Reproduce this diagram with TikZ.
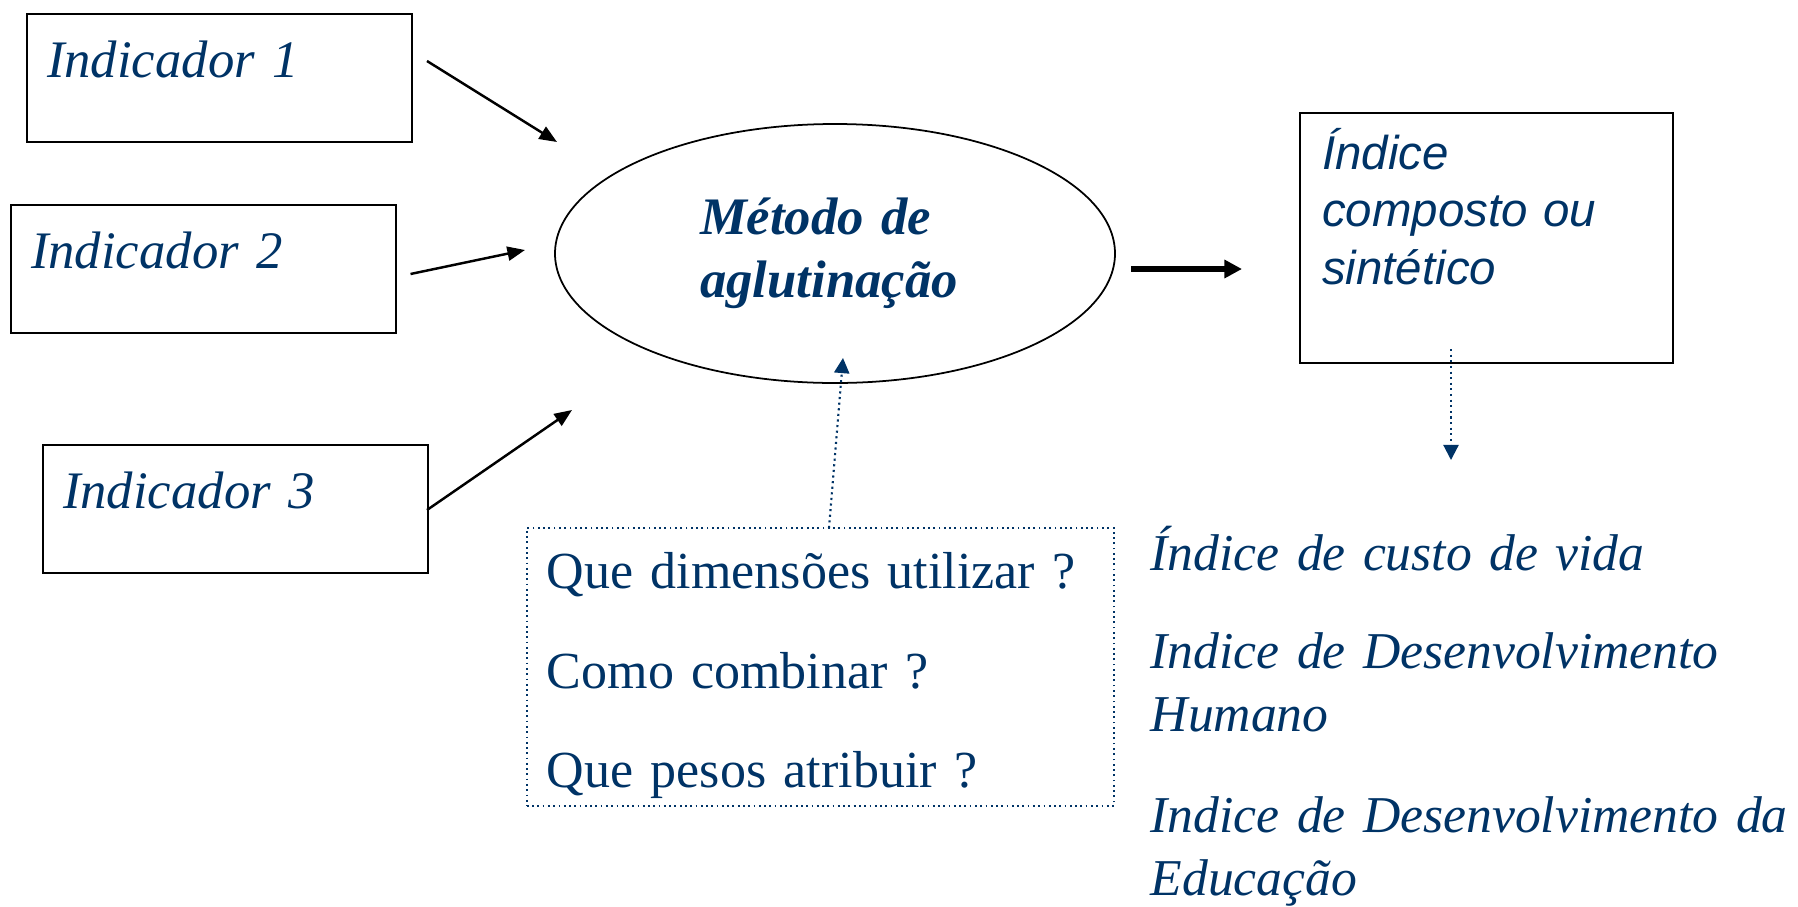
\documentclass[tikz,border=0pt]{standalone}
\usepackage{fontspec}
\setmainfont{Liberation Serif}
\setsansfont{Liberation Sans}
\usepackage{xcolor}
\usepackage{tikz}
\usetikzlibrary{arrows.meta,shapes.geometric}
\definecolor{inkblue}{HTML}{003366}
\tikzset{
  fig/.style={every node/.style={text=inkblue, align=left, inner ysep=0pt}},
  indbox/.style={draw=black, line width=0.6pt, anchor=north west, text width=3.45cm, inner xsep=0.2cm,
                 text height=0.63cm, text depth=0.65cm, font=\fontsize{15}{18}\selectfont\itshape},
  metodo/.style={draw=black, ellipse, line width=0.5pt, minimum width=5.6cm, minimum height=2.59cm, inner sep=0pt,
                 text width=2.7cm, text height=0.3cm, text depth=0.69cm, font=\fontsize{15}{18.2}\selectfont\bfseries\itshape},
  result/.style={draw=black, line width=0.6pt, anchor=north west, text width=3.29cm, inner xsep=0.22cm,
                 text height=0.56cm, text depth=1.94cm, font=\fontsize{13.5}{16.4}\selectfont\sffamily\itshape},
  quest/.style={draw=inkblue, densely dotted, line width=0.5pt, anchor=north west, text width=5.47cm, inner xsep=0.2cm,
                text height=0.61cm, text depth=2.17cm, font=\fontsize{14.8}{28.2}\selectfont},
  example/.style={anchor=base west, text width=6.8cm, inner xsep=0pt, font=\fontsize{14.7}{18.2}\selectfont\itshape},
  feed/.style={-{Triangle[length=5pt,width=4pt]}, line width=0.7pt},
  output/.style={-{Triangle[length=5pt,width=5pt]}, line width=1.7pt},
  hint/.style={-{Triangle[length=4.3pt,width=4.3pt]}, densely dotted, line width=0.6pt, inkblue}
}

\begin{document}
\begin{tikzpicture}[fig]
\useasboundingbox (0,0) rectangle (17.98,-9.06);
\node[indbox] (ind1) at (0.26,-0.13) {Indicador 1};
\node[indbox] (ind2) at (0.10,-2.04) {Indicador 2};
\node[indbox] (ind3) at (0.42,-4.44) {Indicador 3};
\node[metodo] (met) at (8.35,-2.535) {Método de\\aglutinação};
\node[result] (res) at (12.99,-1.12) {Índice\\composto ou\\sintético};
\node[quest] (perg) at (5.26,-5.27) {Que dimensões utilizar ?\\Como combinar ?\\Que pesos atribuir ?};
\node[example] (ex1) at (11.50,-5.70) {Índice de custo de vida};
\node[example] (ex2) at (11.50,-6.68) {Indice de Desenvolvimento\\Humano};
\node[example] (ex3) at (11.50,-8.32) {Indice de Desenvolvimento da\\Educação};
\coordinate (f1a) at (4.27,-0.61);  \coordinate (f1b) at (5.57,-1.42);
\coordinate (f2a) at (4.105,-2.74); \coordinate (f2b) at (5.25,-2.50);
\coordinate (f3a) at (4.27,-5.10);  \coordinate (f3b) at (5.72,-4.10);
\coordinate (outa) at (11.31,-2.69); \coordinate (outb) at (12.42,-2.69);
\coordinate (pa) at (8.29,-5.28);   \coordinate (pb) at (8.43,-3.58);
\coordinate (ra) at (14.51,-3.49);  \coordinate (rb) at (14.51,-4.60);
\draw[feed] (f1a) -- (f1b); \draw[feed] (f2a) -- (f2b); \draw[feed] (f3a) -- (f3b);
\draw[output] (outa) -- (outb);
\draw[hint] (pa) -- (pb); \draw[hint] (ra) -- (rb);
\end{tikzpicture}
\end{document}
